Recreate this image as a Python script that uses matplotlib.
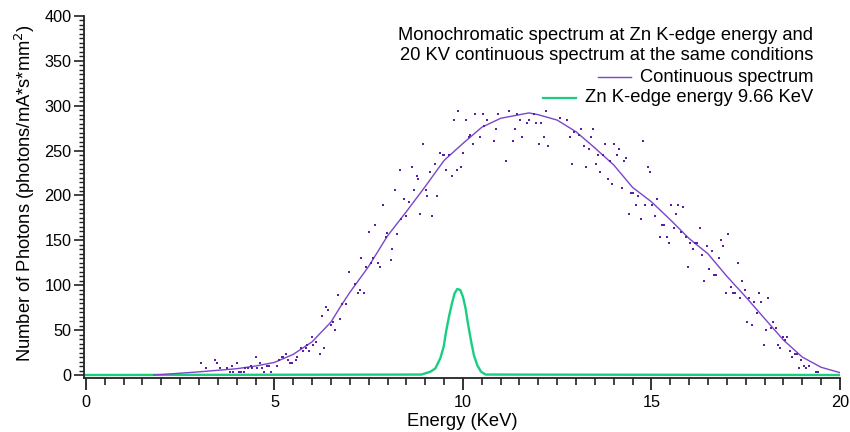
import matplotlib
matplotlib.use("Agg")
import matplotlib.pyplot as plt
from matplotlib.ticker import MultipleLocator
from matplotlib.lines import Line2D

plt.rcParams['font.family'] = ['Liberation Sans', 'DejaVu Sans']

# smoothed 20 kV continuous spectrum
cont_energy = [1.8, 2.0, 3.0, 4.0, 4.5, 5.0, 5.5, 6.0, 6.5, 6.75, 7.0, 7.5, 8.0, 8.5,
               9.0, 9.5, 10.0, 10.5, 11.0, 11.5, 11.75, 12.0, 12.5, 13.0, 13.5, 14.0,
               14.5, 15.0, 15.5, 16.0, 16.5, 17.0, 17.5, 18.0, 18.5, 19.0, 19.5, 20.0]
cont_counts = [0, 0.5, 3.5, 7, 10, 14, 23, 37, 59, 76, 92, 121, 155, 182,
               210, 239, 258, 276, 286, 290, 292, 290, 284, 271, 253, 234,
               209, 193, 173, 152, 135, 110, 87, 63, 39, 20, 8.6, 2.6]

# measured continuous spectrum points
raw_energy = [3.05, 3.18, 3.42, 3.49, 3.55, 3.73, 3.81, 3.87, 3.91, 4.00, 4.07, 4.12,
              4.19, 4.23, 4.30, 4.37, 4.41, 4.50, 4.55, 4.61, 4.67, 4.73, 4.81, 4.86,
              4.91, 5.06, 5.11, 5.19, 5.24, 5.31, 5.37, 5.41, 5.48, 5.56, 5.61, 5.70,
              5.77, 5.83, 5.87, 5.93, 5.99, 6.02, 6.11, 6.20, 6.25, 6.31, 6.37, 6.43,
              6.49, 6.56, 6.62, 6.69, 6.74, 6.80, 6.89, 6.99, 7.13, 7.21, 7.26, 7.31,
              7.38, 7.44, 7.50, 7.57, 7.62, 7.68, 7.76, 7.81, 7.89, 7.95, 7.99, 8.08,
              8.13, 8.19, 8.26, 8.32, 8.37, 8.45, 8.50, 8.58, 8.64, 8.69, 8.77, 8.82,
              8.87, 8.95, 9.01, 9.06, 9.14, 9.19, 9.27, 9.32, 9.38, 9.46, 9.51, 9.56,
              9.64, 9.70, 9.77, 9.83, 9.88, 9.96, 10.01, 10.07, 10.15, 10.20, 10.28, 10.33,
              10.46, 10.52, 10.57, 10.65, 10.83, 10.89, 10.94, 11.15, 11.21, 11.34, 11.39, 11.44,
              11.52, 11.58, 11.71, 11.76, 11.89, 11.95, 12.03, 12.08, 12.16, 12.21, 12.26, 12.58,
              12.77, 12.85, 12.90, 12.95, 13.09, 13.14, 13.22, 13.27, 13.35, 13.40, 13.46, 13.54,
              13.59, 13.64, 13.72, 13.77, 13.85, 13.91, 13.96, 14.01, 14.09, 14.15, 14.23, 14.28,
              14.33, 14.41, 14.46, 14.52, 14.60, 14.65, 14.73, 14.78, 14.83, 14.91, 14.97, 15.02,
              15.10, 15.15, 15.23, 15.28, 15.34, 15.42, 15.47, 15.52, 15.60, 15.66, 15.71, 15.79,
              15.84, 15.92, 15.97, 16.03, 16.11, 16.16, 16.21, 16.29, 16.34, 16.40, 16.48, 16.53,
              16.61, 16.66, 16.72, 16.79, 16.85, 16.90, 16.98, 17.03, 17.11, 17.17, 17.22, 17.30,
              17.35, 17.40, 17.48, 17.54, 17.59, 17.67, 17.72, 17.80, 17.85, 17.91, 17.99, 18.04,
              18.09, 18.17, 18.23, 18.30, 18.36, 18.41, 18.49, 18.54, 18.60, 18.68, 18.73, 18.81,
              18.86, 18.91, 18.97, 19.05, 19.10, 19.18, 19.36, 19.42]
raw_counts = [13.7, 8, 16.7, 13.7, 8, 8, 3.3, 10, 3, 13.7, 3, 3,
              3, 8, 8, 10, 8, 20, 8, 13.7, 8, 3, 10, 10,
              3, 10, 16.7, 20, 20, 23.4, 16.7, 13.7, 13.7, 16.7, 20.4, 30,
              27, 30, 33.4, 27, 42, 33.4, 36.8, 23.4, 65.7, 30, 75.7, 72.4,
              55.7, 59.4, 50, 89, 62.4, 79.5, 79.5, 114.8, 101.7, 91.7, 95, 130.7,
              91.7, 120.7, 159.3, 125, 130.7, 167, 125, 120.7, 189, 154, 157.8, 128,
              140.7, 206, 157.4, 228.4, 173.8, 196, 177, 192.7, 231.8, 206, 221.7, 218.4,
              179.4, 257.4, 206, 199.4, 226, 177, 235, 199.4, 247, 245, 245, 228.4,
              245, 221.7, 284, 228.4, 294, 231.8, 247.7, 284, 265, 267.4, 257.7, 290.8,
              265.5, 290.8, 277.4, 284, 261, 274, 290.8, 238.4, 294, 261, 274, 290.8,
              284, 265.5, 281, 284, 290.8, 281, 257.7, 281, 265.5, 294, 255, 286.3,
              284, 265.5, 235, 270.7, 267.4, 274, 255, 231.8, 251.8, 265.5, 274, 235,
              245, 226, 245, 257.7, 218.4, 238.4, 212.8, 257.7, 245.5, 252, 208.4, 238.4,
              241.8, 179.4, 202.8, 202.8, 189.4, 199.4, 173.8, 260.7, 189.4, 231.8, 226.5, 189.4,
              177, 196, 153.8, 167, 167, 153.8, 147, 189.4, 163.8, 179.4, 189.4, 159.3,
              187.2, 153.8, 120.3, 147, 140.4, 147, 147, 163.8, 133.7, 104.7, 143.7, 118,
              138, 111.4, 111.4, 130.4, 150.4, 143.7, 91.4, 157, 98.4, 91.7, 91.7, 125,
              86, 105, 94.7, 59, 86, 56, 81.7, 69.4, 91.7, 81.7, 33.4, 50.5,
              86, 52.7, 59, 52.7, 33.4, 30, 42.3, 39, 42.3, 26.7, 20, 23.7,
              23.7, 8, 16.7, 10, 8, 10, 3.3, 3.3]

# monochromatic beam at the Zn K-edge
zn_energy = [0, 8.9, 9.14, 9.27, 9.40, 9.49, 9.56, 9.64, 9.71, 9.78, 9.85, 9.93,
             10.0, 10.07, 10.14, 10.22, 10.29, 10.38, 10.48, 10.6, 20]
zn_counts = [0, 0.5, 3.7, 7.4, 18.6, 31.6, 50, 66.9, 80, 91, 95.8, 94.7,
             87.3, 74.3, 55.7, 37, 22.3, 11, 3.7, 0.5, 0]

purple_line = '#7b45c9'
purple_dot = '#5b1fa6'
green = '#17cf7e'

fig = plt.figure(figsize=(8.5, 4.32), dpi=100)
ax = fig.add_axes([0.0988, 0.1257, 0.8894, 0.8373])

ax.plot(zn_energy, zn_counts, color=green, lw=1.7, zorder=2)
ax.plot(cont_energy, cont_counts, color=purple_line, lw=1.0, zorder=3)
ax.plot(raw_energy, raw_counts, ls='none', marker='s', ms=1.9, mew=0,
        color=purple_dot, zorder=4)

ax.set_xlim(-0.05, 20)
ax.set_ylim(-3, 400)
ax.xaxis.set_major_locator(MultipleLocator(5))
ax.xaxis.set_minor_locator(MultipleLocator(0.5))
ax.yaxis.set_major_locator(MultipleLocator(50))
ax.yaxis.set_minor_locator(MultipleLocator(5))

for side in ['top', 'right']:
    ax.spines[side].set_visible(False)
for side in ['left', 'bottom']:
    ax.spines[side].set_linewidth(1.3)
    ax.spines[side].set_color('#222222')

ax.tick_params(axis='x', which='major', direction='out', length=8.5, width=1.3,
               labelsize=11.7, pad=4, color='#222222')
ax.tick_params(axis='x', which='minor', direction='out', length=5, width=1.2,
               color='#222222')
ax.tick_params(axis='y', which='major', direction='out', length=7, width=1.2,
               labelsize=11.7, pad=2, color='#222222')
ax.tick_params(axis='y', which='minor', direction='out', length=3.5, width=1.0,
               color='#222222')

fig.text(462 / 850, 1 - 421 / 432, 'Energy (KeV)', ha='center', va='center',
         fontsize=13.2)
fig.text(25 / 850, 1 - 193 / 432, 'Number of Photons (photons/mA*s*mm$^{2}$)',
         ha='center', va='center', rotation=90, fontsize=13.2)

# legend block, right aligned, with the sample line left of each label
right = 813 / 850
rows = [
    (35, 'Monochromatic spectrum at Zn K-edge energy and', None, 0),
    (55, '20 KV continuous spectrum at the same conditions', None, 0),
    (77, 'Continuous spectrum', purple_line, 1.0),
    (98, 'Zn K-edge energy 9.66 KeV', green, 1.6),
]
texts = []
for ypx, label, col, lw in rows:
    t = fig.text(right, 1 - ypx / 432, label, ha='right', va='center', fontsize=13.2)
    texts.append((t, ypx, col, lw))

fig.canvas.draw()
renderer = fig.canvas.get_renderer()
for t, ypx, col, lw in texts:
    if col is None:
        continue
    x0 = t.get_window_extent(renderer).x0
    x_end = x0 - 9
    x_start = x_end - 33
    fig.add_artist(Line2D([x_start / 850, x_end / 850], [1 - ypx / 432, 1 - ypx / 432],
                          transform=fig.transFigure, color=col, lw=lw))

fig.savefig('out.png', dpi=100)
